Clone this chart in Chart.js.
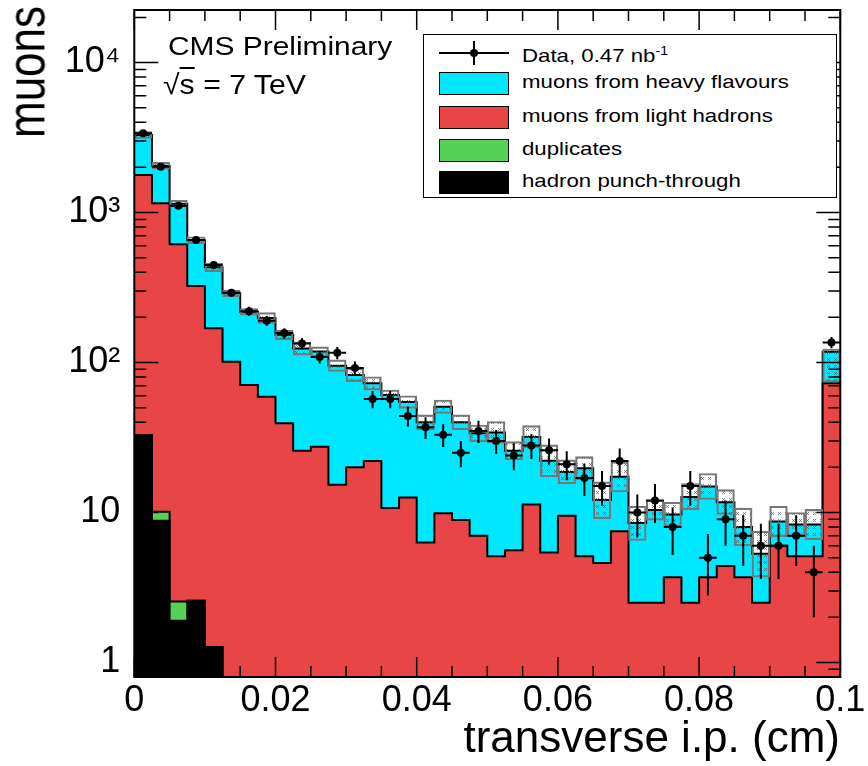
<!DOCTYPE html>
<html lang="en">
<head>
  <meta charset="UTF-8" />
  <title>Transverse impact parameter of muons</title>
  <script src="https://cdn.jsdelivr.net/npm/chart.js"></script>
  <style>
    body {
      margin: 0;
      background: #ffffff;
      font-family: 'Liberation Sans', Arial, Helvetica, sans-serif;
      color: #000;
    }
    .wrap { position: relative; width: 868px; height: 766px; overflow: hidden; }
    #chart { position: absolute; left: 0; top: 0; }
    .txt { position: absolute; white-space: nowrap; }
    #ytitle {
      left: 0; top: 0; width: 132px; text-align: right;
      font-size: 44px; line-height: 44px;
      transform-origin: 0 0;
      transform: translate(0px, 138px) rotate(-90deg) scaleY(1.2);
    }
    #xtitle { right: 28px; top: 712px; font-size: 44px; line-height: 50px; }
    #cms { left: 168px; top: 31px; font-size: 26px; line-height: 30px; transform-origin: 0 0; transform: scaleX(1.15); }
    #energy { left: 163px; top: 69px; font-size: 28px; line-height: 32px; transform-origin: 0 0; transform: scaleX(1.08); }
    #energy .ov { text-decoration: overline; }
    #legend {
      position: absolute; left: 423px; top: 34px; width: 412px; height: 162px;
      border: 1.5px solid #000; background: #fff;
    }
    .row { position: absolute; left: 0; width: 100%; height: 24px; }
    .swatch { position: absolute; left: 15px; top: 0; width: 68px; height: 21px; border: 1.5px solid #000; }
    .label { position: absolute; left: 98px; top: -1px; font-size: 19px; line-height: 22px; white-space: nowrap;
             transform-origin: 0 50%; transform: scaleX(1.17); }
    .dline { position: absolute; left: 15px; top: 11px; width: 70px; height: 2px; background: #000; }
    .dbar { position: absolute; left: 49px; top: 0; width: 2px; height: 24px; background: #000; }
    .ddot { position: absolute; left: 46px; top: 8px; width: 8px; height: 8px; border-radius: 50%; background: #000; }
  </style>
</head>
<body>
<div class="wrap">
  <canvas id="chart" width="868" height="766"></canvas>
  <div class="txt" id="ytitle">muons</div>
  <div class="txt" id="xtitle">transverse i.p. (cm)</div>
  <div class="txt" id="cms">CMS Preliminary</div>
  <div class="txt" id="energy">√<span class="ov">s</span> = 7 TeV</div>
  <div id="legend">
    <div class="row" style="top:6px">
      <div class="dline"></div><div class="dbar"></div><div class="ddot"></div>
      <div class="label">Data, 0.47 nb<sup style="font-size:12px">-1</sup></div>
    </div>
    <div class="row" style="top:37px">
      <div class="swatch" style="background:#00e8ff"></div>
      <div class="label">muons from heavy flavours</div>
    </div>
    <div class="row" style="top:71px">
      <div class="swatch" style="background:#e84646"></div>
      <div class="label">muons from light hadrons</div>
    </div>
    <div class="row" style="top:104px">
      <div class="swatch" style="background:#55d155"></div>
      <div class="label">duplicates</div>
    </div>
    <div class="row" style="top:136px">
      <div class="swatch" style="background:#000"></div>
      <div class="label">hadron punch-through</div>
    </div>
  </div>
</div>

<script>
  // bin edges of the transverse impact parameter (cm)
  const binEdges = [0, 0.0025, 0.005, 0.0075, 0.01, 0.0125, 0.015, 0.0175, 0.02, 0.0225,
    0.025, 0.0275, 0.03, 0.0325, 0.035, 0.0375, 0.04, 0.0425, 0.045, 0.0475,
    0.05, 0.0525, 0.055, 0.0575, 0.06, 0.0625, 0.065, 0.0675, 0.07, 0.0725,
    0.075, 0.0775, 0.08, 0.0825, 0.085, 0.0875, 0.09, 0.0925, 0.095, 0.0975, 0.1];

  // simulated contributions per bin (stacked bottom to top)
  const punchThrough = [32.9, 8.8, 1.9, 2.58, 1.27, 0, 0, 0, 0, 0,
    0, 0, 0, 0, 0, 0, 0, 0, 0, 0,
    0, 0, 0, 0, 0, 0, 0, 0, 0, 0,
    0, 0, 0, 0, 0, 0, 0, 0, 0, 0];
  const duplicates = [0, 1.3, 0.65, 0, 0, 0, 0, 0, 0, 0,
    0, 0, 0, 0, 0, 0, 0, 0, 0, 0,
    0, 0, 0, 0, 0, 0, 0, 0, 0, 0,
    0, 0, 0, 0, 0, 0, 0, 0, 0, 0];
  const lightHadrons = [1745, 1141, 611, 321, 168, 101, 70.8, 59.2, 39.3, 25.8,
    27.4, 15.3, 20, 22, 10.7, 12.6, 6.3, 9.9, 8.9, 7.0,
    5.1, 5.6, 11.3, 5.4, 9.5, 5.1, 4.6, 7.5, 2.5, 2.5,
    3.7, 2.5, 3.7, 4.4, 3.7, 2.5, 6.0, 5.1, 5.1, 72.7];
  const heavyFlavours = [1507, 900, 531, 329, 262, 188, 147, 139, 114, 98,
    91, 80, 62.5, 50.6, 50, 41.9, 33.6, 40.8, 31, 26.7,
    29.1, 20.2, 20.6, 16.7, 9.1, 14.6, 7.5, 9.8, 6.0, 7.9,
    6.0, 10.2, 11.2, 7.3, 4.3, 2.8, 2.7, 3.2, 3.2, 45.3];

  // uncertainty band on the total
  const bandLow = [3114, 1944, 1085, 619, 404, 275, 207, 182, 142, 112,
    109, 87.1, 74.5, 65.5, 56.2, 49.5, 35.6, 45.8, 35.6, 29.7,
    29.0, 22.4, 26.9, 17.3, 15.5, 16.5, 9.1, 13.7, 6.5, 8.9,
    8.1, 10.4, 12.2, 9.7, 6.0, 3.7, 6.9, 6.9, 6.6, 74];
  const bandHigh = [3466, 2164, 1208, 689, 459, 304, 229, 215, 164, 137,
    127, 104, 91.4, 80.4, 65.6, 60.0, 44.8, 56.2, 44.8, 38.3,
    40.4, 29.7, 37.9, 28.2, 22.4, 23.6, 16.0, 21.8, 11.0, 12.1,
    11.7, 15.6, 18.2, 14.2, 10.7, 7.5, 11.0, 10.0, 10.5, 123];

  // data
  const dataCounts = [3373, 2019, 1110, 656, 447, 292, 220, 190, 157, 134,
    109, 116, 92, 57, 57, 44, 37, 33, 25, 35,
    30, 24, 28, 26, 21, 17, 15, 22, 10, 12,
    8, 15, 5, 9, 7, 6, 6, 7, 4, 136];
  const dataErrors = [58, 45, 33, 26, 21, 17, 15, 14, 12.5, 11.6,
    10.4, 10.8, 9.6, 7.5, 7.5, 6.6, 6.1, 5.7, 5.0, 5.9,
    5.5, 4.9, 5.3, 5.1, 4.6, 4.1, 3.9, 4.7, 3.2, 3.5,
    2.8, 3.9, 2.2, 3.0, 2.6, 2.4, 2.4, 2.6, 2.0, 11.7];

  const xTickValues = [0, 0.02, 0.04, 0.06, 0.08, 0.1];
  const yTickValues = [1, 10, 100, 1000, 10000];
  const yTickLabels = ['1', '10', '10²', '10³', '10⁴'];

  const FONT = "'Liberation Sans', Arial, Helvetica, sans-serif";
  const nBins = binEdges.length - 1;
  const binCenters = binEdges.slice(0, nBins).map((e, i) => (e + binEdges[i + 1]) / 2);

  // cumulative stack tops
  const stackTops = [];
  let running = binCenters.map(() => 0);
  [punchThrough, duplicates, lightHadrons, heavyFlavours].forEach(arr => {
    running = running.map((v, i) => v + arr[i]);
    stackTops.push(running);
  });

  // empty bins go below the axis so the step line still closes
  function stepPoints(tops) {
    const pts = binEdges.slice(0, nBins).map((x, i) => ({ x, y: Math.max(tops[i], 0.5) }));
    pts.push({ x: binEdges[nBins], y: Math.max(tops[nBins - 1], 0.5) });
    return pts;
  }

  function hatchPattern() {
    const c = document.createElement('canvas');
    c.width = 7; c.height = 7;
    const g = c.getContext('2d');
    g.strokeStyle = 'rgba(90,90,90,0.7)';
    g.lineWidth = 1;
    g.beginPath();
    g.moveTo(1, 1); g.lineTo(4, 4);
    g.moveTo(4, 1); g.lineTo(1, 4);
    g.stroke();
    return g.createPattern(c, 'repeat');
  }

  function layer(label, tops, color, order) {
    return {
      type: 'line',
      label,
      data: stepPoints(tops),
      stepped: 'before',
      borderColor: '#000',
      borderWidth: 2,
      backgroundColor: color,
      fill: 'start',
      pointRadius: 0,
      order
    };
  }

  const errorBars = {
    id: 'errorBars',
    afterDatasetsDraw(chart) {
      const { ctx, scales: { x, y }, chartArea: a } = chart;
      ctx.save();
      ctx.strokeStyle = '#000';
      ctx.lineWidth = 2;
      ctx.beginPath();
      dataCounts.forEach((v, i) => {
        const py = y.getPixelForValue(v);
        const lo = v - dataErrors[i];
        const pyLo = lo > 0 ? Math.min(y.getPixelForValue(lo), a.bottom) : a.bottom;
        const pyHi = y.getPixelForValue(v + dataErrors[i]);
        const px = x.getPixelForValue(binCenters[i]);
        ctx.moveTo(px, pyLo); ctx.lineTo(px, pyHi);
        ctx.moveTo(x.getPixelForValue(binEdges[i]), py);
        ctx.lineTo(x.getPixelForValue(binEdges[i + 1]), py);
      });
      ctx.stroke();
      ctx.restore();
    }
  };

  const frameTicks = {
    id: 'frameTicks',
    afterDatasetsDraw(chart) {
      const { ctx, scales: { x, y }, chartArea: a } = chart;
      ctx.save();
      ctx.strokeStyle = '#000';
      ctx.lineWidth = 1.5;
      ctx.beginPath();
      for (let k = 0; k <= 20; k++) {
        const v = k * 0.005;
        const px = x.getPixelForValue(v);
        const len = k % 4 === 0 ? 20 : 11;
        ctx.moveTo(px, a.bottom); ctx.lineTo(px, a.bottom - len);
        ctx.moveTo(px, a.top); ctx.lineTo(px, a.top + len);
      }
      for (let e = -1; e <= 4; e++) {
        for (let d = 1; d <= 9; d++) {
          const v = d * Math.pow(10, e);
          if (v < y.min || v > y.max) continue;
          const py = y.getPixelForValue(v);
          const len = d === 1 ? 24 : 12;
          ctx.moveTo(a.left, py); ctx.lineTo(a.left + len, py);
          ctx.moveTo(a.right, py); ctx.lineTo(a.right - len, py);
        }
      }
      ctx.stroke();
      ctx.lineWidth = 2;
      ctx.strokeRect(a.left, a.top, a.right - a.left, a.bottom - a.top);
      ctx.restore();
    }
  };

  new Chart(document.getElementById('chart'), {
    type: 'line',
    data: {
      datasets: [
        {
          type: 'line',
          label: 'Data, 0.47 nb-1',
          data: binCenters.map((x, i) => ({ x, y: dataCounts[i] })),
          showLine: false,
          pointRadius: 4,
          pointBorderWidth: 0,
          pointBackgroundColor: '#000',
          order: 0
        },
        {
          type: 'bar',
          label: 'uncertainty',
          data: binCenters.map((x, i) => ({ x, y: [bandLow[i], bandHigh[i]] })),
          backgroundColor: hatchPattern(),
          borderColor: '#777777',
          borderWidth: 1.5,
          borderSkipped: false,
          barPercentage: 1,
          categoryPercentage: 1,
          order: 1
        },
        layer('hadron punch-through', stackTops[0], '#000000', 2),
        layer('duplicates', stackTops[1], '#55d155', 3),
        layer('muons from light hadrons', stackTops[2], '#e84646', 4),
        layer('muons from heavy flavours', stackTops[3], '#00e8ff', 5)
      ]
    },
    options: {
      responsive: false,
      animation: false,
      layout: { padding: { left: 0, right: 27.7, top: 10, bottom: 0 } },
      plugins: {
        legend: { display: false },
        tooltip: { enabled: false }
      },
      scales: {
        x: {
          type: 'linear',
          min: 0,
          max: 0.1,
          offset: false,
          grid: { display: false, drawTicks: false },
          border: { display: false },
          ticks: {
            color: '#000',
            font: { family: FONT, size: 36 },
            padding: 2,
            maxRotation: 0,
            autoSkip: false,
            callback: v => (v === 0 ? '0' : String(Math.round(v * 100) / 100))
          },
          afterBuildTicks: s => { s.ticks = xTickValues.map(v => ({ value: v })); },
          afterFit: s => { s.height = 89; s.paddingLeft = 0; s.paddingRight = 0; }
        },
        y: {
          type: 'logarithmic',
          min: 0.8,
          max: 22400,
          grid: { display: false, drawTicks: false },
          border: { display: false },
          ticks: {
            color: '#000',
            font: { family: FONT, size: 36 },
            padding: 14,
            autoSkip: false,
            callback: v => yTickLabels[yTickValues.indexOf(v)]
          },
          afterBuildTicks: s => { s.ticks = yTickValues.map(v => ({ value: v })); },
          afterFit: s => { s.width = 134.3; s.paddingTop = 0; s.paddingBottom = 0; }
        }
      }
    },
    plugins: [errorBars, frameTicks]
  });
</script>
</body>
</html>
